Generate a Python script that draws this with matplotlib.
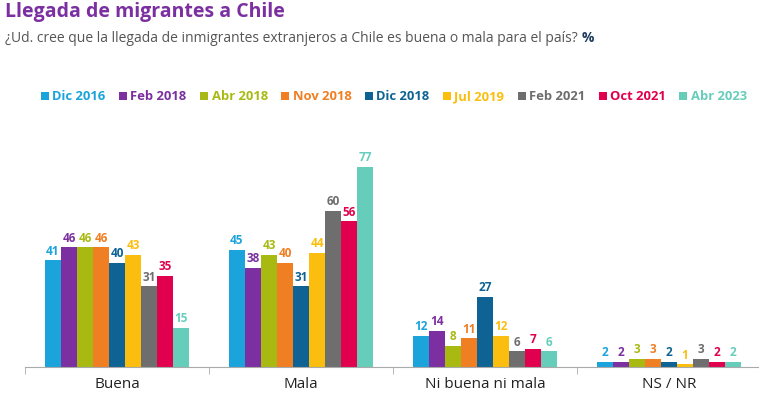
import matplotlib
matplotlib.use("Agg")
import matplotlib.pyplot as plt
from matplotlib.patches import Patch
import numpy as np

categories = ["Buena", "Mala", "Ni buena ni mala", "NS / NR"]
series = ["Dic 2016", "Feb 2018", "Abr 2018", "Nov 2018", "Dic 2018",
          "Jul 2019", "Feb 2021", "Oct 2021", "Abr 2023"]
values = {
    "Dic 2016": [41, 45, 12, 2],
    "Feb 2018": [46, 38, 14, 2],
    "Abr 2018": [46, 43, 8, 3],
    "Nov 2018": [46, 40, 11, 3],
    "Dic 2018": [40, 31, 27, 2],
    "Jul 2019": [43, 44, 12, 1],
    "Feb 2021": [31, 60, 6, 3],
    "Oct 2021": [35, 56, 7, 2],
    "Abr 2023": [15, 77, 6, 2],
}
colors = ["#1BA3DC", "#7B2FA0", "#A8BA12", "#F07E22", "#0E6394",
          "#FBBE0E", "#6E6E6E", "#E0004D", "#66CDBB"]

plt.rcParams['font.family'] = ['Open Sans', 'DejaVu Sans']

fig = plt.figure(figsize=(7.59, 3.98), dpi=100)
ax = fig.add_axes([25/759, 31/398, 736/759, 221/398])

n = len(series)
w = 0.087
x = np.arange(len(categories))
for i, (s, c) in enumerate(zip(series, colors)):
    pos = x + (i - (n - 1) / 2) * w
    vals = values[s]
    ax.bar(pos, vals, width=w, color=c, linewidth=0)
    for px, v in zip(pos, vals):
        ax.annotate(str(v), (px, v), xytext=(0, 2), textcoords="offset points",
                    ha="center", va="bottom", color=c, fontsize=8.5,
                    fontweight="bold")

ax.set_xlim(-0.5, 3.5)
ax.set_ylim(0, 85)
for sp in ["top", "right", "left"]:
    ax.spines[sp].set_visible(False)
ax.spines["bottom"].set_color("#AAAAAA")
ax.set_yticks([])
ax.set_xticks(x)
ax.set_xticklabels(categories, fontsize=11, color="#222222")
ax.tick_params(axis="x", which="major", length=0, pad=7)
ax.set_xticks(np.arange(-0.5, 3.6, 1), minor=True)
ax.tick_params(axis="x", which="minor", length=5, color="#AAAAAA")

fig.text(5/759, 1 - 12/398, "Llegada de migrantes a Chile", color="#7B2FA0",
         fontsize=14, fontweight="bold", va="center", ha="left")
t = fig.text(5/759, 1 - 38/398,
             "¿Ud. cree que la llegada de inmigrantes extranjeros a Chile es buena o mala para el país? ",
             color="#555555", fontsize=10, va="center", ha="left")
fig.canvas.draw()
bb = t.get_window_extent()
fig.text(bb.x1 / 759, 1 - 38/398, "%", color="#1F3A5F", fontsize=10,
         fontweight="bold", va="center", ha="left")

handles = [Patch(facecolor=c, edgecolor="none") for c in colors]
leg = fig.legend(handles, series, loc="center", bbox_to_anchor=(394/759, 1 - 97/398),
                 ncol=n, frameon=False, handlelength=0.6, handleheight=0.6,
                 handletextpad=0.25, columnspacing=1.05,
                 prop={"weight": "bold", "size": 9.4})
for txt, c in zip(leg.get_texts(), colors):
    txt.set_color(c)

fig.savefig("out.png", dpi=100)
